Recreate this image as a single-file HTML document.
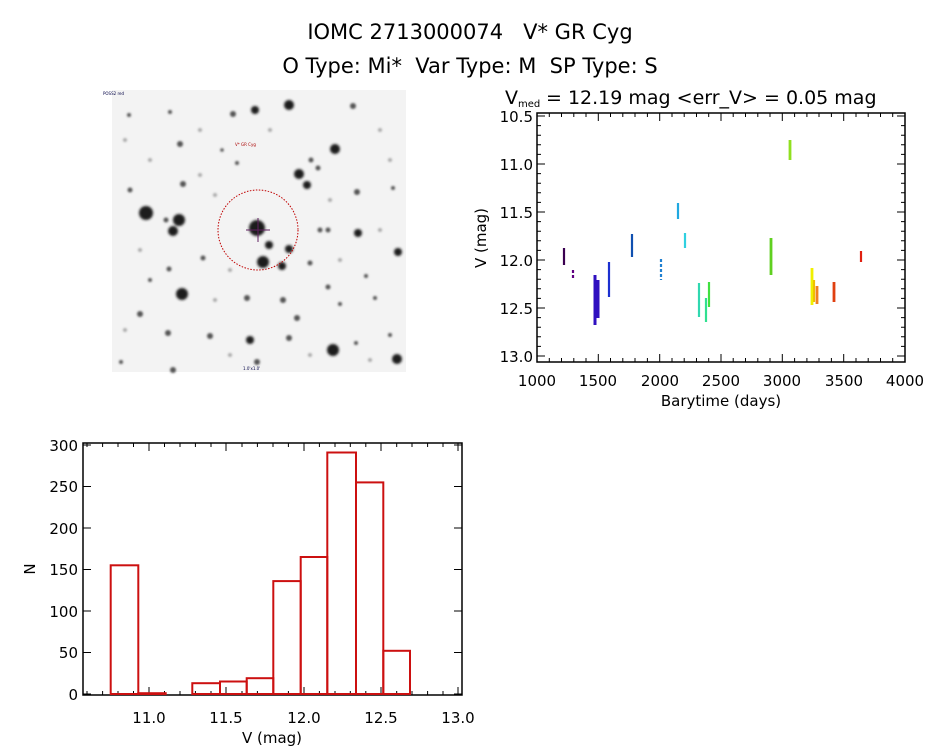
<!DOCTYPE html>
<html><head><meta charset="utf-8"><style>
html,body{margin:0;padding:0;background:#fff;}
svg{display:block;font-family:"DejaVu Sans","Liberation Sans",sans-serif;}
text{white-space:pre;}
</style></head><body>
<svg width="944" height="747" viewBox="0 0 944 747" xmlns="http://www.w3.org/2000/svg">
<defs><filter id="b" x="-1" y="-1" width="3" height="3"><feGaussianBlur stdDeviation="1.3"/></filter>
<filter id="b2" x="-1" y="-1" width="3" height="3"><feGaussianBlur stdDeviation="1"/></filter></defs>
<text x="470" y="39" font-size="21" text-anchor="middle" fill="#000" xml:space="preserve">IOMC 2713000074   V* GR Cyg</text>
<text x="470" y="73" font-size="21" text-anchor="middle" fill="#000" xml:space="preserve">O Type: Mi*  Var Type: M  SP Type: S</text>

<!-- star field -->
<rect x="112" y="90" width="294" height="282" fill="#f3f3f3"/>
<g fill="#1a1a1a" filter="url(#b)">
<circle cx="146" cy="213" r="7"/><circle cx="257" cy="228" r="8"/><circle cx="179" cy="220" r="6"/>
<circle cx="173" cy="231" r="5"/><circle cx="263" cy="262" r="6"/><circle cx="182" cy="294" r="6"/>
<circle cx="289" cy="105" r="5"/><circle cx="255" cy="110" r="4"/><circle cx="335" cy="149" r="5"/>
<circle cx="299" cy="174" r="5"/><circle cx="307" cy="185" r="4"/><circle cx="333" cy="350" r="6"/>
<circle cx="397" cy="359" r="5"/><circle cx="398" cy="252" r="4"/><circle cx="358" cy="233" r="4"/>
<circle cx="289" cy="249" r="4"/><circle cx="282" cy="266" r="4"/><circle cx="269" cy="245" r="4"/>
<circle cx="250" cy="340" r="4"/>
</g>
<g fill="#555" filter="url(#b2)">
<circle cx="180" cy="144" r="3"/><circle cx="233" cy="114" r="3"/><circle cx="353" cy="106" r="3"/>
<circle cx="247" cy="298" r="3"/><circle cx="283" cy="300" r="3"/><circle cx="289" cy="338" r="3"/>
<circle cx="168" cy="333" r="3"/><circle cx="210" cy="336" r="3"/><circle cx="140" cy="314" r="3"/>
<circle cx="297" cy="318" r="3"/><circle cx="257" cy="362" r="3"/><circle cx="173" cy="370" r="3"/>
<circle cx="130" cy="190" r="2.5"/><circle cx="357" cy="192" r="3"/><circle cx="310" cy="263" r="2.5"/>
<circle cx="328" cy="287" r="2.5"/><circle cx="169" cy="269" r="2.5"/><circle cx="203" cy="258" r="2.5"/>
<circle cx="311" cy="160" r="2.5"/><circle cx="318" cy="168" r="2.5"/><circle cx="183" cy="184" r="3"/>
<circle cx="166" cy="220" r="2.5"/><circle cx="129" cy="115" r="2"/><circle cx="170" cy="112" r="2"/>
<circle cx="150" cy="280" r="2"/><circle cx="375" cy="298" r="2"/><circle cx="393" cy="188" r="2"/>
<circle cx="340" cy="304" r="2"/><circle cx="121" cy="362" r="2"/><circle cx="237" cy="163" r="2"/>
<circle cx="320" cy="230" r="2.5"/><circle cx="328" cy="230" r="2.5"/><circle cx="356" cy="343" r="2"/>
<circle cx="366" cy="276" r="2"/><circle cx="390" cy="335" r="2"/><circle cx="222" cy="150" r="1.8"/>
</g>
<g fill="#aaa" filter="url(#b2)">
<circle cx="125" cy="140" r="2"/><circle cx="150" cy="160" r="2"/><circle cx="200" cy="130" r="2"/>
<circle cx="270" cy="130" r="2"/><circle cx="380" cy="130" r="2"/><circle cx="390" cy="160" r="2"/>
<circle cx="140" cy="250" r="2"/><circle cx="215" cy="300" r="2"/><circle cx="230" cy="270" r="2"/>
<circle cx="340" cy="260" r="2"/><circle cx="380" cy="230" r="2"/><circle cx="125" cy="330" r="2"/>
<circle cx="230" cy="355" r="2"/><circle cx="310" cy="355" r="2"/><circle cx="370" cy="360" r="2"/>
<circle cx="215" cy="195" r="2"/><circle cx="330" cy="200" r="2"/><circle cx="200" cy="175" r="2"/>
</g>
<circle cx="258" cy="230" r="40" fill="none" stroke="#c00000" stroke-width="1" stroke-dasharray="1.5,1.5"/>
<path d="M246 230h24M258 218v24" stroke="#602060" stroke-width="1"/>
<text x="103" y="95" font-size="4" fill="#004">POSS2 red</text>
<text x="235" y="146" font-size="4" fill="#a00">V* GR Cyg</text>
<text x="243" y="370" font-size="4" fill="#004">1.0'x1.0'</text>

<!-- light curve -->
<text x="505" y="104" font-size="19">V</text><text x="518" y="107" font-size="10">med</text>
<text x="546" y="104" font-size="19" xml:space="preserve">= 12.19 mag &lt;err_V&gt; = 0.05 mag</text>
<rect x="537" y="113" width="368" height="249" fill="none" stroke="#000" stroke-width="1.5"/>
<g stroke="#000" stroke-width="1">
<path d="M537 116h8M905 116h-8M537 164h8M905 164h-8M537 212h8M905 212h-8M537 260h8M905 260h-8M537 308h8M905 308h-8M537 356h8M905 356h-8"/>
<path d="M537 125.6h4M537 135.2h4M537 144.8h4M537 154.4h4M537 173.6h4M537 183.2h4M537 192.8h4M537 202.4h4M537 221.6h4M537 231.2h4M537 240.8h4M537 250.4h4M537 269.6h4M537 279.2h4M537 288.8h4M537 298.4h4M537 317.6h4M537 327.2h4M537 336.8h4M537 346.4h4"/>
<path d="M905 125.6h-4M905 135.2h-4M905 144.8h-4M905 154.4h-4M905 173.6h-4M905 183.2h-4M905 192.8h-4M905 202.4h-4M905 221.6h-4M905 231.2h-4M905 240.8h-4M905 250.4h-4M905 269.6h-4M905 279.2h-4M905 288.8h-4M905 298.4h-4M905 317.6h-4M905 327.2h-4M905 336.8h-4M905 346.4h-4"/>
<path d="M598.3 362v-8M659.7 362v-8M721 362v-8M782.3 362v-8M843.7 362v-8M598.3 113v8M659.7 113v8M721 113v8M782.3 113v8M843.7 113v8"/>
<path d="M549.3 362v-4M561.5 362v-4M573.8 362v-4M586 362v-4M610.5 362v-4M622.8 362v-4M635 362v-4M647.4 362v-4M672 362v-4M684.2 362v-4M696.5 362v-4M708.7 362v-4M733.2 362v-4M745.5 362v-4M757.8 362v-4M770 362v-4M794.6 362v-4M806.9 362v-4M819 362v-4M831.4 362v-4M856 362v-4M868.2 362v-4M880.5 362v-4M892.7 362v-4"/>
<path d="M549.3 113v4M561.5 113v4M573.8 113v4M586 113v4M610.5 113v4M622.8 113v4M635 113v4M647.4 113v4M672 113v4M684.2 113v4M696.5 113v4M708.7 113v4M733.2 113v4M745.5 113v4M757.8 113v4M770 113v4M794.6 113v4M806.9 113v4M819 113v4M831.4 113v4M856 113v4M868.2 113v4M880.5 113v4M892.7 113v4"/>
</g>
<g font-size="15" text-anchor="end"><text x="533" y="122">10.5</text><text x="533" y="170">11.0</text><text x="533" y="218">11.5</text><text x="533" y="266">12.0</text><text x="533" y="314">12.5</text><text x="533" y="362">13.0</text></g>
<g font-size="15" text-anchor="middle"><text x="537" y="386">1000</text><text x="598" y="386">1500</text><text x="660" y="386">2000</text><text x="721" y="386">2500</text><text x="782" y="386">3000</text><text x="844" y="386">3500</text><text x="905" y="386">4000</text></g>
<text x="721" y="406" font-size="15" text-anchor="middle">Barytime (days)</text>
<text x="486" y="238" font-size="15" text-anchor="middle" transform="rotate(-90 486 238)">V (mag)</text>
<g stroke-width="2.2">
<path d="M564 248v17" stroke="#3a0050"/>
<path d="M573 270v10" stroke="#600080" stroke-dasharray="3,2"/>
<path d="M595 275v50M598 280v38" stroke="#3010c0" stroke-width="3"/>
<path d="M609 262v35" stroke="#1c30d0"/>
<path d="M632 234v23" stroke="#1050b0"/>
<path d="M661 259v21" stroke="#2080d0" stroke-dasharray="3,2"/>
<path d="M678 203v16" stroke="#20a8e0"/>
<path d="M685 233v15" stroke="#30d0e0"/>
<path d="M699 283v34" stroke="#30d8b0"/>
<path d="M706 298v24" stroke="#30e090"/>
<path d="M709 282v25" stroke="#40e040"/>
<path d="M771 238v37" stroke="#60d020" stroke-width="2.8"/>
<path d="M790 140v20" stroke="#90e020" stroke-width="2.8"/>
<path d="M812 268v37" stroke="#f0f000" stroke-width="2.8"/>
<path d="M814 280v22" stroke="#f0c000"/>
<path d="M817 286v18" stroke="#f08020" stroke-width="2.8"/>
<path d="M834 282v20" stroke="#e04010" stroke-width="2.8"/>
<path d="M861 251v11" stroke="#e02010"/>
</g>

<!-- histogram -->
<rect x="83" y="443" width="379" height="252" fill="none" stroke="#000" stroke-width="1.5"/>
<g stroke="#000" stroke-width="1">
<path d="M83 694h8M462 694h-8M83 652.5h8M462 652.5h-8M83 611h8M462 611h-8M83 569.5h8M462 569.5h-8M83 528h8M462 528h-8M83 486.5h8M462 486.5h-8M83 445h8M462 445h-8"/>
<path d="M149 695v-8M226 695v-8M304 695v-8M381 695v-8M458 695v-8M149 443v8M226 443v8M304 443v8M381 443v8M458 443v8"/>
<path d="M87 695v-4M102.6 695v-4M118 695v-4M133.5 695v-4M164.5 695v-4M180 695v-4M195.4 695v-4M211 695v-4M242 695v-4M257.4 695v-4M273 695v-4M288.4 695v-4M319.4 695v-4M335 695v-4M350.3 695v-4M365.8 695v-4M396.7 695v-4M412 695v-4M427.6 695v-4M443 695v-4"/>
<path d="M87 443v4M102.6 443v4M118 443v4M133.5 443v4M164.5 443v4M180 443v4M195.4 443v4M211 443v4M242 443v4M257.4 443v4M273 443v4M288.4 443v4M319.4 443v4M335 443v4M350.3 443v4M365.8 443v4M396.7 443v4M412 443v4M427.6 443v4M443 443v4"/>
</g>
<g font-size="15" text-anchor="end"><text x="78" y="700">0</text><text x="78" y="658">50</text><text x="78" y="617">100</text><text x="78" y="575">150</text><text x="78" y="534">200</text><text x="78" y="492">250</text><text x="78" y="451">300</text></g>
<g font-size="15" text-anchor="middle"><text x="149" y="723">11.0</text><text x="226" y="723">11.5</text><text x="304" y="723">12.0</text><text x="381" y="723">12.5</text><text x="458" y="723">13.0</text></g>
<text x="272" y="743" font-size="15" text-anchor="middle">V (mag)</text>
<text x="35" y="569" font-size="15" text-anchor="middle" transform="rotate(-90 35 569)">N</text>
<g fill="none" stroke="#cc1010" stroke-width="2">
<rect x="110.7" y="565.3" width="27.6" height="128.7"/>
<rect x="138.3" y="693.2" width="27.4" height="0.8"/>
<rect x="192.3" y="683.2" width="27.7" height="10.8"/>
<rect x="220" y="681.5" width="26.7" height="12.5"/>
<rect x="246.7" y="678.2" width="26.6" height="15.8"/>
<rect x="273.3" y="581.1" width="27.4" height="112.9"/>
<rect x="300.7" y="557" width="26.6" height="137"/>
<rect x="327.3" y="452.5" width="28.7" height="241.5"/>
<rect x="356" y="482.4" width="27.3" height="211.6"/>
<rect x="383.3" y="650.8" width="26.7" height="43.2"/>
</g>
</svg>
</body></html>
